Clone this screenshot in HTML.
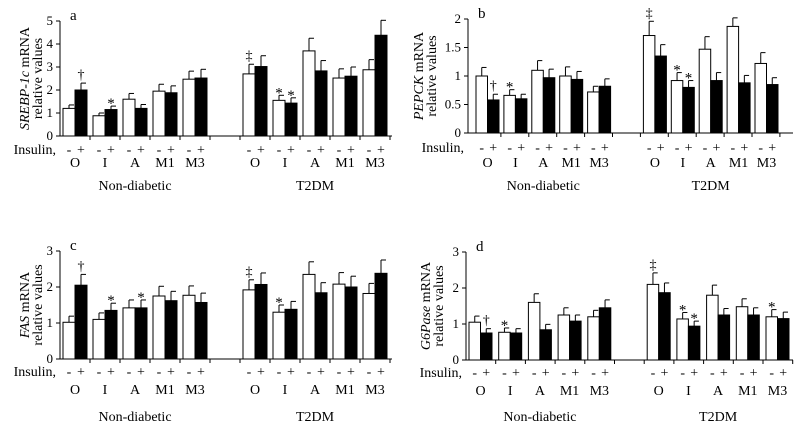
<!DOCTYPE html>
<html><head><meta charset="utf-8"><style>
body{margin:0;background:#fff;}
svg text{font-family:"Liberation Serif",serif;fill:#000;}
</style></head><body>
<svg id="c" width="800" height="427" xmlns="http://www.w3.org/2000/svg"></svg>
<script>
const groups = ["O","I","A","M1","M3"];
const aWhite = [1.2,0.88,1.6,1.95,2.47, 2.7,1.55,3.7,2.52,2.88];
const aBlack = [2.0,1.15,1.2,1.88,2.52, 3.02,1.43,2.83,2.6,4.38];
const aWErr = [0.15,0.12,0.25,0.3,0.35, 0.42,0.22,0.55,0.4,0.44];
const aBErr = [0.3,0.15,0.17,0.3,0.38, 0.47,0.23,0.45,0.4,0.65];
const bWhite = [1.0,0.66,1.1,1.0,0.72, 1.71,0.92,1.47,1.87,1.22];
const bBlack = [0.58,0.6,0.97,0.94,0.82, 1.35,0.8,0.92,0.88,0.85];
const bWErr = [0.15,0.1,0.17,0.16,0.1, 0.25,0.14,0.22,0.15,0.19];
const bBErr = [0.1,0.08,0.15,0.14,0.13, 0.2,0.12,0.14,0.13,0.12];
const cWhite = [1.02,1.1,1.42,1.75,1.77, 1.92,1.3,2.35,2.08,1.82];
const cBlack = [2.05,1.35,1.42,1.62,1.57, 2.07,1.38,1.84,2.0,2.38];
const cWErr = [0.17,0.18,0.22,0.27,0.26, 0.28,0.2,0.35,0.32,0.28];
const cBErr = [0.3,0.2,0.22,0.26,0.26, 0.32,0.22,0.28,0.3,0.37];
const dWhite = [1.05,0.77,1.6,1.25,1.2, 2.1,1.14,1.8,1.48,1.2];
const dBlack = [0.75,0.75,0.84,1.08,1.45, 1.87,0.94,1.25,1.25,1.15];
const dWErr = [0.17,0.12,0.24,0.2,0.18, 0.32,0.18,0.28,0.22,0.2];
const dBErr = [0.12,0.12,0.15,0.17,0.22, 0.27,0.14,0.18,0.2,0.18];
const aTicks = ["0","1","2","3","4","5"];
const bTicks = ["0","0.5","1","1.5","2"];
const cTicks = ["0","1","2","3"];
const dTicks = ["0","1","2","3"];
const aMarks = [[0,"b","†"],[1,"b","*"],[5,"w","‡"],[6,"w","*"],[6,"b","*"]];
const bMarks = [[0,"b","†"],[1,"w","*"],[5,"w","‡"],[6,"w","*"],[6,"b","*"]];
const cMarks = [[0,"b","†"],[1,"b","*"],[2,"b","*"],[5,"w","‡"],[6,"w","*"]];
const dMarks = [[0,"b","†"],[1,"w","*"],[5,"w","‡"],[6,"w","*"],[6,"b","*"],[9,"w","*"]];

const svg = document.getElementById('c');
const NS = "http://www.w3.org/2000/svg";
function el(tag, attrs, txt){const e=document.createElementNS(NS,tag);for(const k in attrs)e.setAttribute(k,attrs[k]);if(txt!==undefined)e.textContent=txt;svg.appendChild(e);return e;}

function panel(p){
  const y = v => p.base - v/p.max*(p.base-p.top);
  const slot = i => i<5 ? i : i+1;
  const bx = i => p.x0 + p.off + p.pitch*slot(i);
  const bw = p.bw;
  let e = el('line',{x1:p.x0,y1:p.top,x2:p.x0,y2:p.base,stroke:'#000','stroke-width':1});
   
  p.ticks.forEach((t,k)=>{
    const v = k*p.max/(p.ticks.length-1);
    const ty = y(v);
    el('line',{x1:p.x0-4,y1:ty,x2:p.x0,y2:ty,stroke:'#000'});
    const tt = el('text',{x:p.x0-7,y:ty+4,'font-size':13,'text-anchor':'end'},t);
     
  });
  const xe = el('line',{x1:p.x0,y1:p.base,x2:p.xend,y2:p.base,stroke:'#000'});
   
  for(let s=1;s<=11;s++){const tx=p.x0+p.off+p.pitch*s-3; if(tx<p.xend) el('line',{x1:tx,y1:p.base,x2:tx,y2:p.base+4,stroke:'#000'});}
  for(let i=0;i<10;i++){
    const x=bx(i);
    [[p.w[i],p.we[i],'#fff',x,'w'],[p.b[i],p.be[i],'#000',x+bw,'b']].forEach(([v,er,fill,xx,s])=>{
      const top=y(v), et=y(v+er);
      el('line',{x1:xx+bw/2,y1:top,x2:xx+bw/2,y2:et,stroke:'#000'});
      el('line',{x1:xx+bw/2,y1:et,x2:xx+bw-1,y2:et,stroke:'#000'});
      const r = el('rect',{x:xx,y:top,width:bw,height:p.base-top,fill:fill,stroke:'#000','stroke-width':1});
      
      
      el('text',{x:xx+bw/2,y:p.ins,'font-size':14,'text-anchor':'middle','font-family':'Liberation Sans'}, s==='w'?'-':'+');
    });
    const gl = el('text',{x:x+bw,y:p.grp,'font-size':14,'text-anchor':'middle'},groups[i%5]);
     
  }
  p.marks.forEach(([i,s,sym])=>{
    const xx = bx(i)+(s==='b'?bw:0)+bw/2;
    const v = s==='b'? p.b[i]+p.be[i] : p.w[i]+p.we[i];
    const m = el('text',{x:xx,y:y(v)-4+(sym==='*'?6:0),'font-size':sym==='*'?15:14,'text-anchor':'middle'},sym);
     
  });
  let t = el('text',{x:p.x0-4,y:p.ins,'font-size':14,'text-anchor':'end','font-family':'Liberation Sans'},'Insulin,');
   
  t = el('text',{x:bx(2)+bw,y:p.cat,'font-size':14,'text-anchor':'middle'},'Non-diabetic');
   
  t = el('text',{x:bx(7)+bw,y:p.cat,'font-size':14,'text-anchor':'middle'},'T2DM');
   
  t = el('text',{x:p.x0+10,y:p.top-1,'font-size':15},p.id);
   
  const cy=(p.top+p.base)/2;
  t = el('text',{x:0,y:0,'font-size':14,'text-anchor':'middle',transform:`translate(${p.x0-p.tOff},${cy}) rotate(-90)`});
  const ts1=document.createElementNS(NS,'tspan'); ts1.setAttribute('font-style','italic'); ts1.textContent=p.gene; t.appendChild(ts1);
  const ts2=document.createElementNS(NS,'tspan'); ts2.textContent=' mRNA'; t.appendChild(ts2);
   
  t = el('text',{x:0,y:0,'font-size':14,'text-anchor':'middle',transform:`translate(${p.x0-p.tOff+13},${cy}) rotate(-90)`},'relative values');
   
}
panel({id:'a',gene:'SREBP-1c',tOff:31,x0:60,base:136,top:21,max:5,ticks:aTicks,pitch:30,off:3,bw:12,xend:392,w:aWhite,b:aBlack,we:aWErr,be:aBErr,marks:aMarks,ins:154,grp:167,cat:190});
panel({id:'b',gene:'PEPCK',tOff:45,x0:468,base:133,top:19,max:2,ticks:bTicks,pitch:27.9,off:8,bw:11.5,xend:793,w:bWhite,b:bBlack,we:bWErr,be:bBErr,marks:bMarks,ins:152,grp:167,cat:190});
panel({id:'c',gene:'FAS',tOff:31,x0:60,base:359,top:251,max:3,ticks:cTicks,pitch:30,off:3,bw:12,xend:392,w:cWhite,b:cBlack,we:cWErr,be:cBErr,marks:cMarks,ins:376,grp:394,cat:421});
panel({id:'d',gene:'G6Pase',tOff:36,x0:466,base:360,top:252,max:3,ticks:dTicks,pitch:29.7,off:3,bw:11.5,xend:793,w:dWhite,b:dBlack,we:dWErr,be:dBErr,marks:dMarks,ins:377,grp:395,cat:421});
</script>
</body></html>
